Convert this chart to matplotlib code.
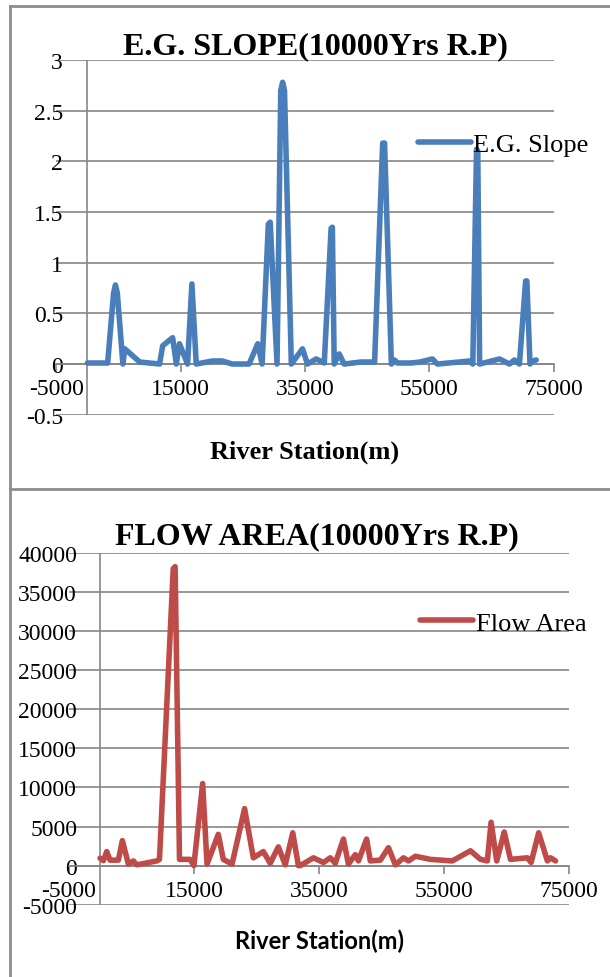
import matplotlib.pyplot as plt
from matplotlib.lines import Line2D

plt.rcParams['axes.unicode_minus'] = False

# E.G. slope, 10000 yrs return period
eg_station = [0, 3250, 4200, 4500, 4800, 5700, 6000, 8400, 11600, 12100, 13700, 14300,
              14800, 16100, 16800, 17500, 20100, 21700, 23300, 26000, 27400, 28100,
              29100, 29400, 30500, 31100, 31400, 31700, 32800, 34600, 35400, 36800,
              38100, 39200, 39400, 39700, 40500, 41300, 44000, 46200, 47500, 47800,
              48900, 49400, 49900, 52000, 53500, 55500, 56300, 61500, 62000, 62600,
              62800, 63100, 66300, 67900, 68700, 69500, 70500, 70700, 71200, 71600,
              72200]
eg_slope = [0.01, 0.01, 0.7, 0.78, 0.7, 0.0, 0.15, 0.02, 0.0, 0.18, 0.26, 0.0,
            0.2, 0.0, 0.79, 0.0, 0.03, 0.03, 0.0, 0.0, 0.2, 0.0,
            1.38, 1.4, 0.0, 2.7, 2.78, 2.7, 0.0, 0.15, 0.0, 0.05,
            0.01, 1.34, 1.35, 0.0, 0.1, 0.0, 0.02, 0.02, 2.18, 2.18,
            0.0, 0.04, 0.01, 0.01, 0.02, 0.05, 0.0, 0.03, 0.0, 2.12,
            2.1, 0.0, 0.05, 0.0, 0.04, 0.0, 0.82, 0.82, 0.0, 0.03,
            0.04]

# Flow area, 10000 yrs return period
fa_station = [0, 530, 1070, 1600, 2930, 3570, 4530, 5330, 5870, 9070, 9500, 11700,
              12000, 12700, 14400, 15000, 16400, 17100, 18900, 19700, 21100, 23100,
              24500, 26100, 27200, 28500, 29600, 30800, 31700, 32000, 34100, 35700,
              36800, 37600, 38900, 39700, 40800, 41300, 42600, 43200, 44800, 46100,
              47200, 48500, 49300, 50400, 52800, 56300, 59200, 60800, 61900, 62500,
              63400, 64600, 65600, 68300, 68900, 70100, 71500, 72000, 72800]
fa_area = [950, 640, 1800, 700, 700, 3200, 200, 600, 100, 600, 800, 38000,
           38250, 800, 800, 0, 10500, 200, 4000, 800, 200, 7300,
           1000, 1800, 300, 2400, 100, 4200, 0, 0, 1000, 400,
           1000, 300, 3400, 200, 1400, 600, 3400, 600, 700, 2300,
           100, 1000, 600, 1200, 800, 600, 1900, 800, 600, 5550,
           600, 4300, 800, 1000, 400, 4200, 600, 1000, 600]

x_ticks = [-5000, 15000, 35000, 55000, 75000]
eg_ticks = [-0.5, 0, 0.5, 1, 1.5, 2, 2.5, 3]
fa_ticks = [-5000, 0, 5000, 10000, 15000, 20000, 25000, 30000, 35000, 40000]

grid_gray = '#868686'
serif = 'Liberation Serif'

fig = plt.figure(figsize=(6.1, 9.78), dpi=100)
W, H = 610.0, 978.0


def panel(rect_px, x, y, color, label, title, yticks, ylabel_pad, xlabel_font,
          legend_xy, title_pad, title_x):
    left, top, right, bottom = rect_px
    ax = fig.add_axes([left / W, 1 - bottom / H, (right - left) / W, (bottom - top) / H])
    ax.plot(x, y, color=color, lw=4, solid_joinstyle='round',
            solid_capstyle='round', label=label, zorder=3)
    ax.set_xlim(-5000, 75000)
    ax.set_ylim(yticks[0], yticks[-1])
    ax.set_xticks(x_ticks)
    ax.set_yticks(yticks)
    ax.set_yticklabels(['{:g}'.format(v) for v in yticks])
    ax.grid(axis='y', color=grid_gray, lw=1.2)
    ax.set_axisbelow(True)
    for s in ['top', 'right', 'left']:
        ax.spines[s].set_visible(False)
    ax.spines['bottom'].set_position(('data', 0))
    ax.spines['bottom'].set_color(grid_gray)
    ax.spines['bottom'].set_linewidth(1.2)
    ax.axvline(0, color=grid_gray, lw=1.2, zorder=2)
    ax.tick_params(axis='x', direction='out', length=6, width=1.2, color=grid_gray,
                   pad=4, labelsize=17)
    ax.tick_params(axis='y', length=0, pad=ylabel_pad, labelsize=17)
    for t in ax.get_xticklabels() + ax.get_yticklabels():
        t.set_fontfamily(serif)
    ax.set_title(title, fontfamily=serif, fontweight='bold', fontsize=23,
                 pad=title_pad, x=title_x)
    ax.set_xlabel('River Station(m)', fontweight='bold', va='center', **xlabel_font)
    ax.xaxis.set_label_coords(0.5, -0.102)
    ax.legend(loc='center left', bbox_to_anchor=legend_xy, frameon=False,
              borderpad=0, borderaxespad=0, handlelength=2.0, handletextpad=0.1,
              prop={'family': serif, 'size': 19})
    return ax


panel((56.4, 61, 553.6, 415.7), eg_station, eg_slope, '#4A7EBB', 'E.G. Slope',
      'E.G. SLOPE(10000Yrs R.P)', eg_ticks, -4.7,
      {'fontfamily': serif, 'fontsize': 19}, (0.727, 0.763), 3, 0.52)

panel((68.75, 554, 569.3, 905.7), fa_station, fa_area, '#BE4B48', 'Flow Area',
      'FLOW AREA(10000Yrs R.P)', fa_ticks, -6,
      {'fontfamily': 'Lato', 'fontsize': 17}, (0.702, 0.801), 7, 0.495)

# chart frames
for xs, ys in [([10, 10], [7, 978]), ([10, 610], [7, 7]), ([10, 610], [490, 490])]:
    fig.add_artist(Line2D([v / W for v in xs], [1 - v / H for v in ys],
                          color='#8c8c8c', lw=2))

fig.savefig('out.png', dpi=100)
